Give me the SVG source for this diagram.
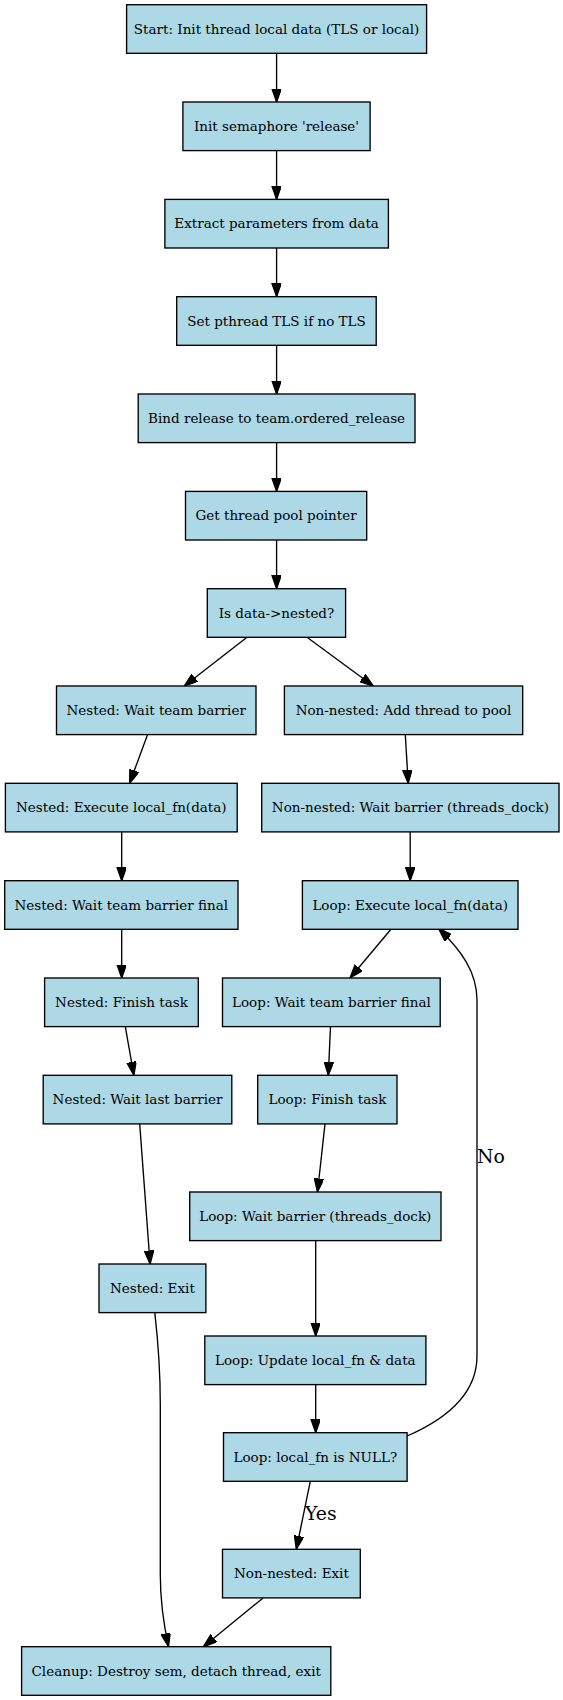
<svg xmlns="http://www.w3.org/2000/svg" width="563" height="1700" viewBox="0 0 563 1700">
<defs>
<style>
.n rect{fill:#add8e6;stroke:#000;stroke-width:1.35}
.n text{font-family:"DejaVu Serif",serif;font-size:13.5px;text-anchor:middle;fill:#000}
.e path{fill:none;stroke:#000;stroke-width:1.35;marker-end:url(#ah)}
.lbl{font-family:"DejaVu Serif",serif;font-size:18.9px;fill:#000}
</style>
<marker id="ah" markerUnits="userSpaceOnUse" markerWidth="14" markerHeight="10" refX="13.5" refY="4.7" orient="auto">
<path d="M0,0 L13.5,4.7 L0,9.4 Z" fill="#000" stroke="#000" stroke-width="1.35"/>
</marker>
</defs>
<rect width="563" height="1700" fill="#fff"/>
<g id="edges" class="e">
<path d="M276.6,53.3 L276.6,102"/>
<path d="M276.6,150.6 L276.6,199.4"/>
<path d="M276.6,248 L276.6,296.7"/>
<path d="M276.6,345.3 L276.6,394"/>
<path d="M276.6,442.6 L276.6,491.4"/>
<path d="M276.6,540 L276.6,588.7"/>
<path d="M247,637.3 L184.3,686"/>
<path d="M307,637.3 L373.3,686"/>
<path d="M147.6,734.6 L129.6,783.3"/>
<path d="M405.3,734.6 L408.2,783.3"/>
<path d="M121.7,831.9 L121.7,880.7"/>
<path d="M410.2,831.9 L410.2,880.7"/>
<path d="M121.7,929.3 L121.7,978"/>
<path d="M391,929.3 L350,978"/>
<path d="M125.3,1026.6 L133.9,1075.3"/>
<path d="M330.5,1026.6 L328.3,1075.3"/>
<path d="M139.7,1123.9 L150.1,1264"/>
<path d="M325,1123.9 L317.5,1192"/>
<path d="M315.7,1240.6 L315.7,1336"/>
<path d="M315.7,1384.6 L315.7,1432.7"/>
<path d="M407.1,1436 C444,1420 477,1396 477,1356 L477,1000 C477,972 461,950 438.5,928.5"/>
<path d="M310.3,1481.3 L296.3,1549.3"/>
<path d="M263.1,1597.9 L203.4,1646.7"/>
<path d="M154.8,1312.6 C158.5,1345 160.3,1375 160.3,1405 L160.3,1575 C160.3,1605 164,1626 168.5,1646.7"/>
</g>
<text class="lbl" x="477" y="1163">No</text>
<text class="lbl" x="305" y="1520">Yes</text>
<g id="n1" class="n"><rect x="126.6" y="4.7" width="300" height="48.6"/><text x="276.6" y="33.7">Start: Init thread local data (TLS or local)</text></g>
<g id="n2" class="n"><rect x="182.9" y="102" width="187.2" height="48.6"/><text x="276.5" y="131">Init semaphore 'release'</text></g>
<g id="n3" class="n"><rect x="164.9" y="199.4" width="223.5" height="48.6"/><text x="276.6" y="228.4">Extract parameters from data</text></g>
<g id="n4" class="n"><rect x="176.7" y="296.7" width="199.5" height="48.6"/><text x="276.5" y="325.7">Set pthread TLS if no TLS</text></g>
<g id="n5" class="n"><rect x="138.2" y="394" width="276.8" height="48.6"/><text x="276.6" y="423">Bind release to team.ordered_release</text></g>
<g id="n6" class="n"><rect x="185.5" y="491.4" width="181.2" height="48.6"/><text x="276.1" y="520.4">Get thread pool pointer</text></g>
<g id="n7" class="n"><rect x="207.3" y="588.7" width="138.3" height="48.6"/><text x="276.5" y="617.7">Is data-&gt;nested?</text></g>
<g id="n8" class="n"><rect x="56.5" y="686" width="199.5" height="48.6"/><text x="156.2" y="715">Nested: Wait team barrier</text></g>
<g id="n9" class="n"><rect x="284.4" y="686" width="238.3" height="48.6"/><text x="403.5" y="715">Non-nested: Add thread to pool</text></g>
<g id="n10" class="n"><rect x="5.4" y="783.3" width="231.8" height="48.6"/><text x="121.3" y="812.3">Nested: Execute local_fn(data)</text></g>
<g id="n11" class="n"><rect x="261.7" y="783.3" width="297.3" height="48.6"/><text x="410.4" y="812.3">Non-nested: Wait barrier (threads_dock)</text></g>
<g id="n12" class="n"><rect x="4.7" y="880.7" width="233.3" height="48.6"/><text x="121.3" y="909.7">Nested: Wait team barrier final</text></g>
<g id="n13" class="n"><rect x="302.4" y="880.7" width="215.6" height="48.6"/><text x="410.2" y="909.7">Loop: Execute local_fn(data)</text></g>
<g id="n14" class="n"><rect x="44.6" y="978" width="153.7" height="48.6"/><text x="121.5" y="1007">Nested: Finish task</text></g>
<g id="n15" class="n"><rect x="222.5" y="978" width="217.7" height="48.6"/><text x="331.4" y="1007">Loop: Wait team barrier final</text></g>
<g id="n16" class="n"><rect x="43.2" y="1075.3" width="188.6" height="48.6"/><text x="137.5" y="1104.3">Nested: Wait last barrier</text></g>
<g id="n17" class="n"><rect x="257.7" y="1075.3" width="139.3" height="48.6"/><text x="327.4" y="1104.3">Loop: Finish task</text></g>
<g id="n18" class="n"><rect x="189.7" y="1192" width="251.3" height="48.6"/><text x="315.3" y="1221">Loop: Wait barrier (threads_dock)</text></g>
<g id="n19" class="n"><rect x="99" y="1264" width="106.9" height="48.6"/><text x="152.4" y="1293">Nested: Exit</text></g>
<g id="n20" class="n"><rect x="204.8" y="1336" width="221.1" height="48.6"/><text x="315.3" y="1365">Loop: Update local_fn &amp; data</text></g>
<g id="n21" class="n"><rect x="223.5" y="1432.7" width="183.6" height="48.6"/><text x="315.3" y="1461.7">Loop: local_fn is NULL?</text></g>
<g id="n22" class="n"><rect x="222.5" y="1549.3" width="137.8" height="48.6"/><text x="291.4" y="1578.3">Non-nested: Exit</text></g>
<g id="n23" class="n"><rect x="21.6" y="1646.7" width="309.2" height="48.6"/><text x="176.2" y="1675.7">Cleanup: Destroy sem, detach thread, exit</text></g>
</svg>
